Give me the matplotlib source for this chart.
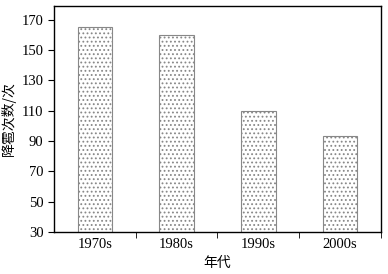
import matplotlib.pyplot as plt
import numpy as np

# дані
decades = ['1970s', '1980s', '1990s', '2000s']
hail_counts = [165, 160, 110, 93]

plt.rcParams['font.family'] = ['Liberation Serif', 'Noto Sans CJK SC', 'DejaVu Sans']
plt.rcParams['hatch.color'] = '#555555'
plt.rcParams['hatch.linewidth'] = 0.8

fig = plt.figure(figsize=(3.88, 2.74), dpi=100)
ax = fig.add_axes([0.139, 0.153, 0.843, 0.825])

x = np.arange(len(decades))
ax.bar(x, hail_counts, width=0.42, bottom=0, color='white',
       edgecolor='#888888', linewidth=0.8, hatch='....')

ax.set_xlim(-0.5, len(decades) - 0.5)
ax.set_ylim(30, 179)
ax.set_yticks(np.arange(30, 171, 20))
ax.set_xticks(x)
ax.set_xticklabels(decades)
ax.set_xticks(np.append(x[:-1] + 0.5, len(decades) - 0.5), minor=True)
ax.tick_params(axis='x', which='major', length=0, pad=4, labelsize=10.5)
ax.tick_params(axis='x', which='minor', length=4, direction='out')
ax.tick_params(axis='y', length=4, direction='out', labelsize=10.5)

for s in ax.spines.values():
    s.set_linewidth(1.0)

ax.set_xlabel('年代', fontsize=10, family=['Noto Sans CJK SC'], labelpad=4)
ax.set_ylabel('降雹次数/次', fontsize=10, family=['Noto Sans CJK SC'], labelpad=4)

fig.savefig('out.png', dpi=100)
